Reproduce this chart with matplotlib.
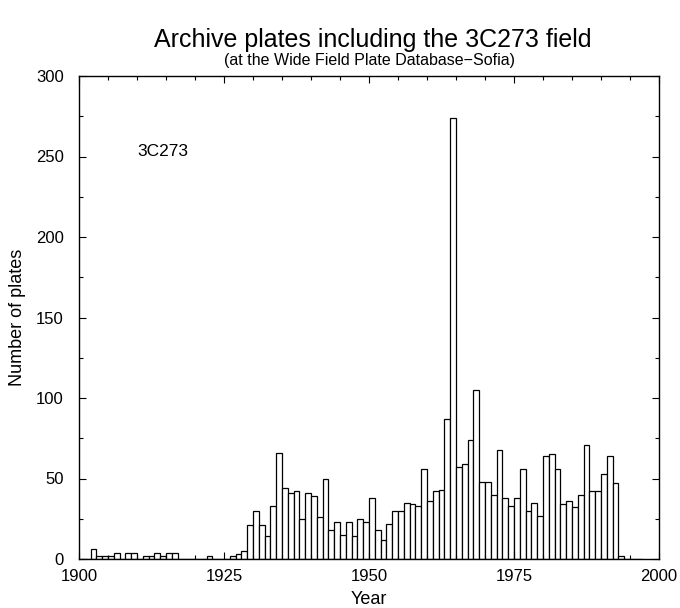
import matplotlib
matplotlib.use('Agg')
import matplotlib.pyplot as plt
from matplotlib.ticker import MultipleLocator

plt.rcParams['font.family'] = ['Liberation Sans', 'DejaVu Sans']

# ── data: plates per year (1900..1996) ───────────────────────────────────────
years = list(range(1900, 1997))
plates = [
    0, 0, 6, 2, 2, 2, 4, 0, 4, 4,          # 1900-1909
    0, 2, 2, 4, 2, 4, 4, 0, 0, 0,          # 1910-1919
    0, 0, 2, 0, 0, 0, 2, 3, 5, 21,         # 1920-1929
    30, 21, 14, 33, 66, 44, 41, 42, 25, 41,  # 1930-1939
    39, 26, 50, 18, 23, 15, 23, 14, 25, 23,  # 1940-1949
    38, 18, 12, 22, 30, 30, 35, 34, 33, 56,  # 1950-1959
    36, 42, 43, 87, 274, 57, 59, 74, 105, 48,  # 1960-1969
    48, 40, 68, 38, 33, 38, 56, 30, 35, 27,  # 1970-1979
    64, 65, 56, 34, 36, 32, 40, 71, 42, 42,  # 1980-1989
    53, 64, 47, 2, 0, 0, 0,                # 1990-1996
]

title = 'Archive plates including the 3C273 field'
subtitle = '(at the Wide Field Plate Database\u2212Sofia)'
label = '3C273'

W, H, DPI = 680, 608, 100
fig = plt.figure(figsize=(W / DPI, H / DPI), dpi=DPI, facecolor='white')
ax = fig.add_axes([79 / W, 1 - 559 / H, 580 / W, 483 / H])

ax.bar(years, plates, width=1.0, align='edge', facecolor='white',
       edgecolor='black', linewidth=0.9)

ax.set_xlim(1900, 2000)
ax.set_ylim(0, 300)
ax.xaxis.set_major_locator(MultipleLocator(25))
ax.xaxis.set_minor_locator(MultipleLocator(5))
ax.yaxis.set_major_locator(MultipleLocator(50))
ax.yaxis.set_minor_locator(MultipleLocator(25))
ax.tick_params(which='both', direction='in', top=True, right=True,
               labelsize=12, width=0.8)
ax.tick_params(which='major', length=5)
ax.tick_params(which='minor', length=3)
ax.tick_params(axis='x', which='major', pad=7)
ax.tick_params(axis='y', which='major', pad=11)
for s in ax.spines.values():
    s.set_linewidth(1.0)

ax.set_xlabel('Year', fontsize=13, labelpad=5)
ax.set_ylabel('Number of plates', fontsize=13, labelpad=7)

ax.text(1910, 253, label, fontsize=12.5, ha='left', va='center')

fig.text(373 / W, 1 - 40 / H, title, fontsize=18, ha='center', va='center')
fig.text(370 / W, 1 - 61 / H, subtitle, fontsize=11.5, ha='center', va='center')

fig.savefig('out.png', dpi=DPI, facecolor='white')
